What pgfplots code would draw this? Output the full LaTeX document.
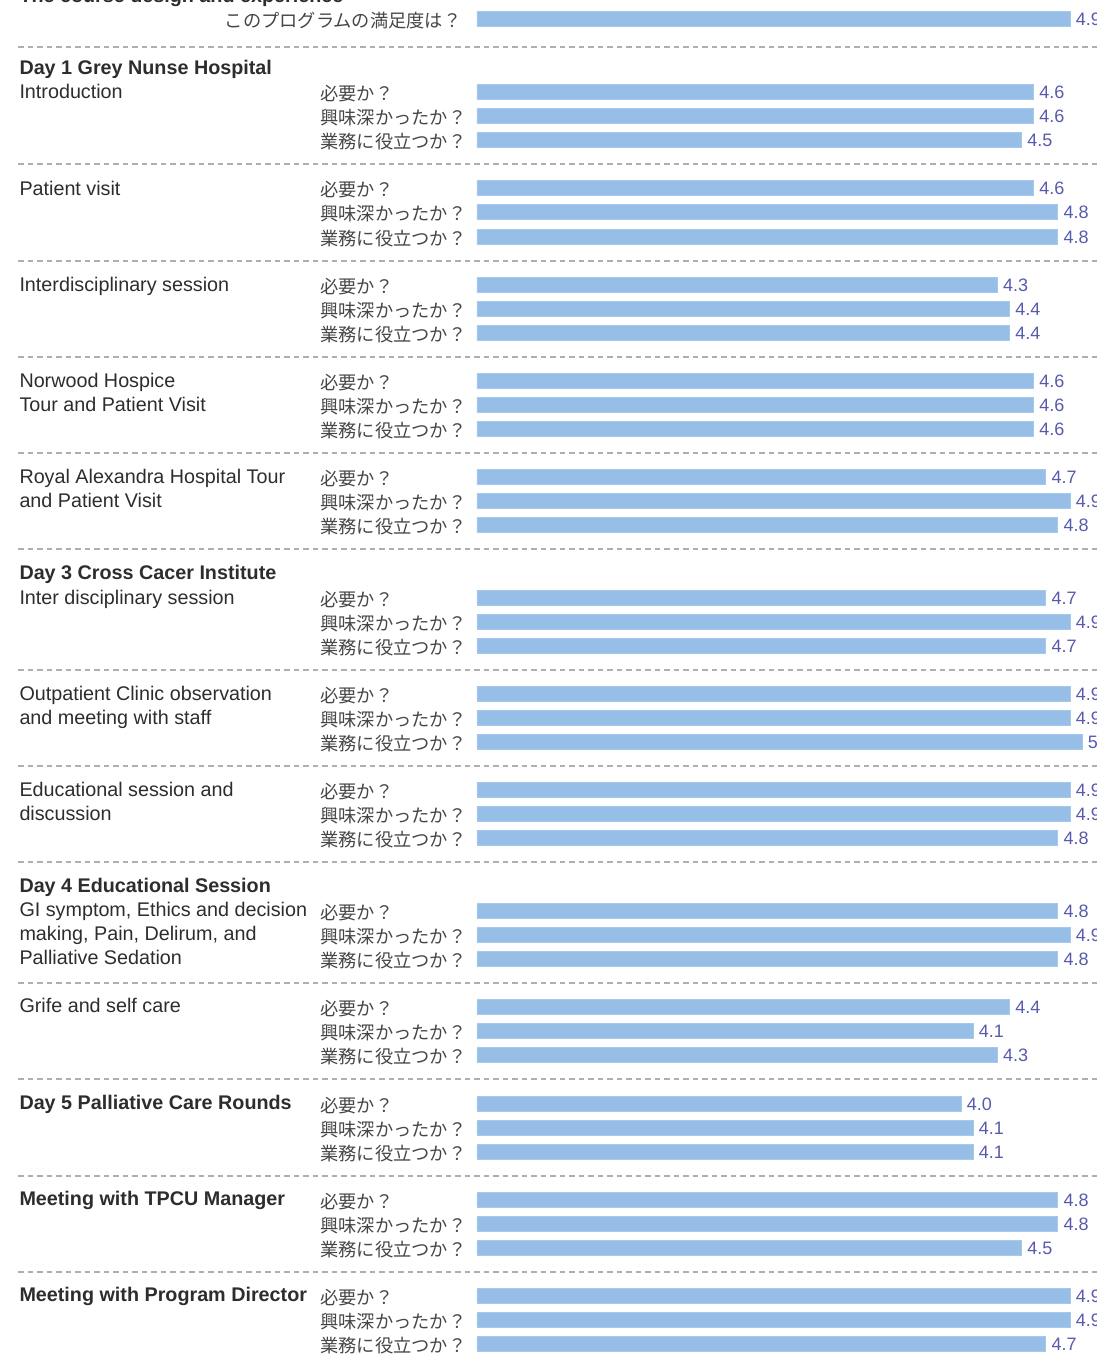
\documentclass[border=0pt]{standalone}
\usepackage{pgfplots}
\usepackage{pgfplotstable}
\pgfplotsset{compat=1.18}
\usepackage{fontspec}
\setmainfont{Liberation Sans}
\newfontfamily\jp{Noto Sans CJK JP}
\definecolor{barblue}{RGB}{150,190,230}
\definecolor{valcol}{RGB}{88,90,172}
\definecolor{txt}{RGB}{45,45,45}
\definecolor{jtxt}{RGB}{70,70,70}
\definecolor{sep}{RGB}{175,175,175}

\pgfplotstableread{
y val lab
19 4.9 4.9
92 4.6 4.6
116 4.6 4.6
140 4.5 4.5
188 4.6 4.6
212 4.8 4.8
237 4.8 4.8
285 4.3 4.3
309 4.4 4.4
333 4.4 4.4
381 4.6 4.6
405 4.6 4.6
429 4.6 4.6
477 4.7 4.7
501 4.9 4.9
525 4.8 4.8
598 4.7 4.7
622 4.9 4.9
646 4.7 4.7
694 4.9 4.9
718 4.9 4.9
742 5.0 5
790 4.9 4.9
814 4.9 4.9
838 4.8 4.8
911 4.8 4.8
935 4.9 4.9
959 4.8 4.8
1007 4.4 4.4
1031 4.1 4.1
1055 4.3 4.3
1104 4.0 4.0
1128 4.1 4.1
1152 4.1 4.1
1200 4.8 4.8
1224 4.8 4.8
1248 4.5 4.5
1296 4.9 4.9
1320 4.9 4.9
1344 4.7 4.7
}\datatable

\newcommand{\en}{\fontsize{7.9}{9}\selectfont\color{txt}}
\newcommand{\jl}{\jp\fontsize{7.3}{9}\selectfont\color{jtxt}}
\newcommand{\sepline}[1]{\draw[sep, line width=0.5pt, dash pattern=on 2.2pt off 1.6pt] (axis cs:-3.793,#1) -- (axis cs:5.2,#1);}
\newcommand{\bl}[2]{\node[anchor=base west, inner sep=0pt, font=\en\bfseries] at (axis cs:-3.785,#1) {#2};}
\newcommand{\nl}[2]{\node[anchor=base west, inner sep=0pt, font=\en] at (axis cs:-3.785,#1) {#2};}
\newcommand{\jq}[3]{%
  \node[anchor=base west, inner sep=0pt, font=\jl] at (axis cs:-1.2975,#1) {必要か？};
  \node[anchor=base west, inner sep=0pt, font=\jl] at (axis cs:-1.2975,#2) {興味深かったか？};
  \node[anchor=base west, inner sep=0pt, font=\jl] at (axis cs:-1.2975,#3) {業務に役立つか？};}

\begin{document}
\begin{tikzpicture}
\begin{axis}[
  name=ax,
  width=438.8pt, height=542pt, scale only axis,
  xmin=-3.9421, xmax=5.1240,
  ymin=0, ymax=1355, y dir=reverse,
  axis lines=none, ticks=none,
  clip=false,
  xbar, bar width=6pt,
]
\addplot[xbar, fill=barblue, draw=barblue!85!white, line width=0.3pt,
  point meta=explicit symbolic,
  nodes near coords,
  every node near coord/.append style={anchor=west, font=\fontsize{7.2}{8}\selectfont, text=valcol, inner sep=2.2pt}]
  table[x=val, y=y, meta=lab] {\datatable};

% separators
\sepline{47}\sepline{164}\sepline{261}\sepline{357}\sepline{453}\sepline{549}
\sepline{670}\sepline{766}\sepline{862}\sepline{983}\sepline{1079}\sepline{1176}\sepline{1272}

% title (cut off at top)
\bl{2}{The course design and experience}
\node[anchor=base east, inner sep=0pt, font=\jl] at (axis cs:-0.124,27) {このプログラムの満足度は？};

% left group labels
\bl{74}{Day 1 Grey Nunse Hospital}
\bl{579}{Day 3 Cross Cacer Institute}
\bl{892}{Day 4 Educational Session}
\bl{1109}{Day 5 Palliative Care Rounds}
\bl{1205}{Meeting with TPCU Manager}
\bl{1301}{Meeting with Program Director}
\nl{98}{Introduction}
\nl{195}{Patient visit}
\nl{291}{Interdisciplinary session}
\nl{387}{Norwood Hospice}
\nl{411}{Tour and Patient Visit}
\nl{483}{Royal Alexandra Hospital Tour}
\nl{507}{and Patient Visit}
\nl{604}{Inter disciplinary session}
\nl{700}{Outpatient Clinic observation}
\nl{724}{and meeting with staff}
\nl{796}{Educational session and}
\nl{820}{discussion}
\nl{916}{GI symptom, Ethics and decision}
\nl{940}{making, Pain, Delirum, and}
\nl{964}{Palliative Sedation}
\nl{1012}{Grife and self care}

% Japanese question labels
\jq{100}{124}{148}
\jq{196}{220}{245}
\jq{293}{317}{341}
\jq{389}{413}{437}
\jq{485}{509}{533}
\jq{606}{630}{654}
\jq{702}{726}{750}
\jq{798}{822}{846}
\jq{919}{943}{967}
\jq{1015}{1039}{1063}
\jq{1112}{1136}{1160}
\jq{1208}{1232}{1256}
\jq{1304}{1328}{1352}
\end{axis}
\pgfresetboundingbox
\path[use as bounding box] (ax.south west) rectangle (ax.north east);
\end{tikzpicture}
\end{document}
